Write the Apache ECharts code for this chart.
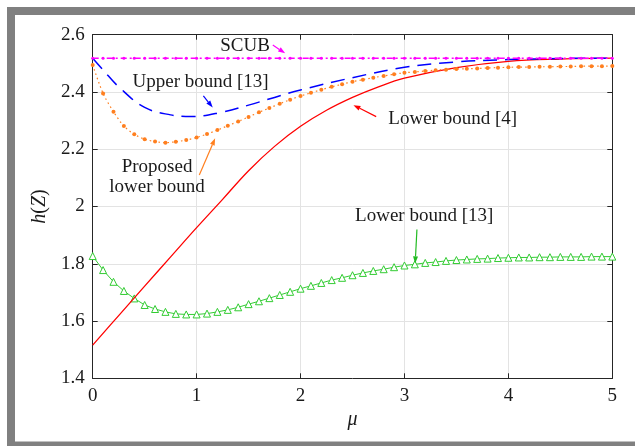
<!DOCTYPE html>
<html><head><meta charset="utf-8">
<script src="https://cdn.jsdelivr.net/npm/echarts@6/dist/echarts.min.js"></script>
<style>html,body{margin:0;padding:0;background:#fff}#c{width:635px;height:446px}</style>
</head><body><div id="c"></div>
<script>
// ---- data ----
const mu = [0,0.1,0.2,0.3,0.4,0.5,0.6,0.7,0.8,0.9,1.0,1.1,1.2,1.3,1.4,1.5,1.6,1.7,1.8,1.9,2.0,2.1,2.2,2.3,2.4,2.5,2.6,2.7,2.8,2.9,3.0,3.1,3.2,3.3,3.4,3.5,3.6,3.7,3.8,3.9,4.0,4.1,4.2,4.3,4.4,4.5,4.6,4.7,4.8,4.9,5.0];
const scub = [2.518,2.518,2.518,2.518,2.518,2.518,2.518,2.518,2.518,2.518,2.518,2.518,2.518,2.518,2.518,2.518,2.518,2.518,2.518,2.518,2.518,2.518,2.518,2.518,2.518,2.518,2.518,2.518,2.518,2.518,2.518,2.518,2.518,2.518,2.518,2.518,2.518,2.518,2.518,2.518,2.518,2.518,2.518,2.518,2.518,2.518,2.518,2.518,2.518,2.518,2.518];
const proposed = [2.494,2.395,2.331,2.281,2.252,2.235,2.227,2.223,2.226,2.232,2.241,2.253,2.267,2.282,2.297,2.313,2.329,2.344,2.359,2.373,2.386,2.397,2.408,2.418,2.427,2.436,2.443,2.450,2.456,2.462,2.467,2.470,2.473,2.476,2.478,2.480,2.481,2.482,2.484,2.485,2.486,2.487,2.487,2.488,2.488,2.489,2.489,2.490,2.490,2.490,2.491];
const lower13 = [1.827,1.778,1.737,1.705,1.679,1.656,1.642,1.632,1.625,1.623,1.623,1.626,1.632,1.639,1.648,1.659,1.669,1.680,1.691,1.702,1.713,1.723,1.733,1.743,1.751,1.760,1.768,1.775,1.781,1.788,1.794,1.798,1.803,1.806,1.810,1.813,1.815,1.817,1.818,1.820,1.821,1.822,1.822,1.823,1.823,1.824,1.824,1.824,1.825,1.825,1.825];
const muUpper = [0,0.1,0.25,0.5,0.75,0.95,1.25,1.5,1.75,2,2.5,3,3.5,4,4.5,5];
const upper13 = [2.518,2.477,2.418,2.346,2.320,2.314,2.330,2.354,2.381,2.407,2.450,2.486,2.505,2.513,2.517,2.518];
const muLower4 = [0,0.25,0.5,0.75,1.0,1.25,1.5,1.75,2.0,2.25,2.5,2.75,3.0,3.5,4.0,4.5,5.0];
const lower4 = [1.516,1.619,1.722,1.824,1.926,2.025,2.125,2.210,2.280,2.336,2.381,2.418,2.448,2.485,2.507,2.515,2.518];
const xTicks = ['0','1','2','3','4','5'];
const yTicks = ['1.4','1.6','1.8','2','2.2','2.4','2.6'];
// annotations (data coords): text, text pos, arrow from, arrow to, color
const notes = [
  {t:'SCUB', at:[1.466,2.5605], from:[1.733,2.564], to:[1.852,2.535], c:'#ff00ff'},
  {t:'Upper bound [13]', at:[1.038,2.436], from:[1.065,2.386], to:[1.155,2.346], c:'#0000ff'},
  {t:'Proposed\nlower bound', at:[0.619,2.104], from:[1.026,2.110], to:[1.178,2.238], c:'#ff7f1f'},
  {t:'Lower bound [4]', at:[3.464,2.306], from:[2.728,2.314], to:[2.509,2.354], c:'#ff0000'},
  {t:'Lower bound [13]', at:[3.19,1.967], from:[3.12,1.920], to:[3.103,1.801], c:'#22bb22'}
];

const FONT = 'Liberation Serif';
const pairs = (xs, ys) => xs.map((x, i) => [x, ys[i]]);
const chart = echarts.init(document.getElementById('c'));
const axisCommon = {
  axisLine: {show: true, onZero: false, lineStyle: {color: '#262626', width: 1}},
  axisTick: {show: true, inside: true, length: 5, lineStyle: {color: '#262626'}},
};
chart.setOption({
  animation: false,
  backgroundColor: '#fff',
  grid: {left: 92.7, right: 22.7, top: 34.7, bottom: 67.7, containLabel: false},
  xAxis: [
    Object.assign({type: 'value', min: 0, max: 5, interval: 1,
      name: 'μ', nameLocation: 'middle', nameGap: 30,
      nameTextStyle: {fontFamily: FONT, fontSize: 20, fontStyle: 'italic', color: '#1a1a1a'},
      axisLabel: {fontFamily: FONT, fontSize: 19, color: '#1a1a1a', margin: 8,
        formatter: v => xTicks[Math.round(v)]},
      splitLine: {show: true, lineStyle: {color: '#e3e3e3', width: 1}}}, axisCommon),
    Object.assign({type: 'value', min: 0, max: 5, interval: 1, position: 'top',
      axisLabel: {show: false}, splitLine: {show: false}}, axisCommon)
  ],
  yAxis: [
    Object.assign({type: 'value', min: 1.4, max: 2.6, interval: 0.2,
      name: '{i|h}({i|Z})', nameLocation: 'middle', nameGap: 42, nameRotate: 90,
      nameTextStyle: {fontFamily: FONT, fontSize: 20, color: '#1a1a1a',
        rich: {i: {fontFamily: FONT, fontSize: 20, fontStyle: 'italic', color: '#1a1a1a'}}},
      axisLabel: {fontFamily: FONT, fontSize: 19, color: '#1a1a1a', margin: 8,
        formatter: v => yTicks[Math.round((v - 1.4) / 0.2)]},
      splitLine: {show: true, lineStyle: {color: '#e3e3e3', width: 1}}}, axisCommon),
    Object.assign({type: 'value', min: 1.4, max: 2.6, interval: 0.2, position: 'right',
      axisLabel: {show: false}, splitLine: {show: false}}, axisCommon)
  ],
  series: [
    {name: 'Lower bound [13]', type: 'line', data: pairs(mu, lower13),
      symbol: 'triangle', symbolSize: 7, showAllSymbol: true,
      itemStyle: {color: '#fff', borderColor: '#33cc33', borderWidth: 1},
      lineStyle: {color: '#33cc33', width: 1}, z: 3},
    {name: 'Lower bound [4]', type: 'line', data: pairs(muLower4, lower4), smooth: 0.4,
      symbol: 'none', lineStyle: {color: '#ff0000', width: 1.3}, z: 4},
    {name: 'Proposed', type: 'line', data: pairs(mu, proposed), smooth: 0.3,
      symbol: 'circle', symbolSize: 4, showAllSymbol: true,
      itemStyle: {color: '#ff7f1f', borderWidth: 0},
      lineStyle: {color: '#ff7f1f', width: 1.2, type: [1.5, 3]}, z: 5},
    {name: 'Upper bound [13]', type: 'line', data: pairs(muUpper, upper13), smooth: 0.4,
      symbol: 'none', lineStyle: {color: '#0000ff', width: 1.5, type: [14, 8]}, z: 6},
    {name: 'SCUB', type: 'line', data: pairs(mu, scub),
      symbol: 'circle', symbolSize: 3, showAllSymbol: true,
      itemStyle: {color: '#ff00ff', borderWidth: 0},
      lineStyle: {color: '#ff00ff', width: 1.5, type: [6, 3, 2, 3]}, z: 7}
  ]
});

const g = [
  {type: 'rect', shape: {x: 7, y: 7, width: 650, height: 460}, style: {fill: '#808080'}, z: -20, silent: true},
  {type: 'rect', shape: {x: 15, y: 15, width: 640, height: 426.5}, style: {fill: '#ffffff'}, z: -19, silent: true}
];
notes.forEach(n => {
  const p = chart.convertToPixel({gridIndex: 0}, n.at);
  const a = chart.convertToPixel({gridIndex: 0}, n.from);
  const b = chart.convertToPixel({gridIndex: 0}, n.to);
  g.push({type: 'text', x: p[0], y: p[1], z: 100,
    style: {text: n.t, fontFamily: FONT, fontSize: 19, fill: '#1a1a1a',
      align: 'center', verticalAlign: 'middle', lineHeight: 20}});
  const dx = b[0] - a[0], dy = b[1] - a[1];
  const L = Math.hypot(dx, dy), ux = dx / L, uy = dy / L;
  const hl = 7, hw = 2.5;
  const bx = b[0] - ux * hl, by = b[1] - uy * hl;
  g.push({type: 'line', z: 100, shape: {x1: a[0], y1: a[1], x2: bx, y2: by},
    style: {stroke: n.c, lineWidth: 1.2}});
  g.push({type: 'polygon', z: 100, shape: {points: [[b[0], b[1]],
      [bx - uy * hw, by + ux * hw], [bx + uy * hw, by - ux * hw]]},
    style: {fill: n.c}});
});
chart.setOption({graphic: g});
</script></body></html>
